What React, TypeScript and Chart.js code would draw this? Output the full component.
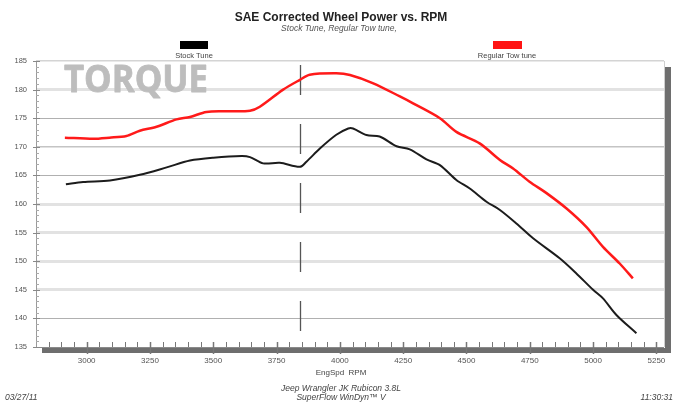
import React, { useEffect, useRef } from "react";
import { Chart, registerables } from "chart.js";

Chart.register(...registerables);

const stockRpm = [2918, 2986, 3092, 3210, 3316, 3408, 3500, 3612, 3645, 3697, 3763, 3842, 3868, 3921, 3986, 4033, 4052, 4105, 4157, 4224, 4276, 4342, 4395, 4460, 4513, 4579, 4632, 4697, 4763, 4868, 4933, 5000, 5039, 5092, 5171];
const stockTorque = [163.45, 163.85, 164.1, 165.1, 166.4, 167.6, 168.1, 168.4, 168.2, 167.1, 167.2, 166.5, 167.4, 169.7, 172.1, 173.2, 173.2, 172.05, 171.8, 170.1, 169.55, 167.8, 166.8, 164.2, 162.7, 160.4, 158.95, 156.6, 154.0, 150.5, 147.9, 145.0, 143.5, 140.6, 137.4];

const towRpm = [2914, 3026, 3090, 3157, 3210, 3276, 3355, 3408, 3473, 3560, 3645, 3684, 3776, 3842, 3881, 3986, 4040, 4132, 4237, 4289, 4395, 4460, 4552, 4632, 4684, 4749, 4816, 4894, 4973, 5039, 5105, 5157];
const towTorque = [171.6, 171.4, 171.6, 171.9, 172.8, 173.5, 174.8, 175.2, 176.1, 176.2, 176.3, 177.0, 180.0, 181.7, 182.6, 182.85, 182.55, 181.1, 178.8, 177.6, 175.0, 172.6, 170.6, 167.7, 166.2, 163.9, 161.9, 159.25, 156.0, 152.5, 149.6, 147.0];

const xTicks = [3000, 3250, 3500, 3750, 4000, 4250, 4500, 4750, 5000, 5250];
const yTicks = [135, 140, 145, 150, 155, 160, 165, 170, 175, 180, 185];
const markerRpm = 3842;

const FONT = "'Liberation Sans', Arial, sans-serif";

function gridStyle(v: number): [string, number] {
  if (v === 135) return ["rgba(0,0,0,0)", 0];
  if (v === 185) return ["#d4d4d4", 1.5];
  if (v === 175 || v === 165 || v === 140) return ["#b0b0b0", 1];
  if (v === 170) return ["#c4c4c4", 1.5];
  return ["#e2e2e2", 3];
}

const decorPlugin = {
  id: "decor",
  beforeDatasetsDraw(chart: any) {
    const ctx = chart.ctx as CanvasRenderingContext2D;
    const { left, right, top, bottom } = chart.chartArea;
    const xs = chart.scales.x;
    const ys = chart.scales.y;
    ctx.save();
    // TORQUE watermark
    ctx.font = `bold 38px 'Open Sans', 'Liberation Sans', sans-serif`;
    ctx.fillStyle = "#bdbdbd";
    ctx.strokeStyle = "#bdbdbd";
    ctx.lineWidth = 0.8;
    ctx.lineJoin = "round";
    ctx.textBaseline = "alphabetic";
    ctx.textAlign = "left";
    const w = ctx.measureText("TORQUE").width;
    ctx.translate(64, 92);
    ctx.scale(144 / w, 1);
    ctx.fillText("TORQUE", 0, 0);
    ctx.strokeText("TORQUE", 0, 0);
    ctx.restore();

    ctx.save();
    // right border
    ctx.strokeStyle = "#cfcfcf";
    ctx.lineWidth = 1;
    ctx.beginPath();
    ctx.moveTo(right + 0.5, top);
    ctx.lineTo(right + 0.5, bottom);
    ctx.stroke();
    // shadows
    ctx.fillStyle = "#6e6e6e";
    ctx.fillRect(left + 6, bottom + 1, right - left + 1, 5);
    ctx.fillRect(right + 1, top + 6, 6, bottom - top);
    // left axis
    ctx.strokeStyle = "#9a9a9a";
    ctx.beginPath();
    ctx.moveTo(left + 0.5, top);
    ctx.lineTo(left + 0.5, bottom + 1);
    ctx.stroke();
    // bottom axis
    ctx.strokeStyle = "#8a8a8a";
    ctx.beginPath();
    ctx.moveTo(left, bottom + 0.5);
    ctx.lineTo(right, bottom + 0.5);
    ctx.stroke();
    // x minor/major ticks
    ctx.strokeStyle = "#777";
    for (let r = 2850; r <= 5275; r += 50) {
      const px = Math.round(xs.getPixelForValue(r)) + 0.5;
      const major = r % 250 === 0;
      ctx.lineWidth = major ? 1.5 : 1;
      ctx.beginPath();
      ctx.moveTo(px, bottom - 5);
      ctx.lineTo(px, major ? bottom + 7 : bottom);
      ctx.stroke();
    }
    // y minor/major ticks
    for (let v = 135; v <= 185; v += 1) {
      const py = Math.round(ys.getPixelForValue(v)) + 0.5;
      const major = v % 5 === 0;
      ctx.lineWidth = 1;
      ctx.strokeStyle = major ? "#888" : "#aaa";
      ctx.beginPath();
      ctx.moveTo(major ? left - 3 : left, py);
      ctx.lineTo(left + (major ? 4 : 3), py);
      ctx.stroke();
    }
    // dashed marker
    const mx = Math.round(xs.getPixelForValue(markerRpm)) + 0.5;
    ctx.strokeStyle = "#555";
    ctx.lineWidth = 1.3;
    ctx.setLineDash([30, 29]);
    ctx.beginPath();
    ctx.moveTo(mx, top + 4);
    ctx.lineTo(mx, bottom - 14);
    ctx.stroke();
    ctx.restore();
  },
  afterDraw(chart: any) {
    const ctx = chart.ctx as CanvasRenderingContext2D;
    ctx.save();
    ctx.fillStyle = "#222";
    ctx.textAlign = "center";
    ctx.textBaseline = "alphabetic";
    ctx.font = `bold 12px ${FONT}`;
    ctx.fillText("SAE Corrected Wheel Power vs. RPM", 341, 21);
    ctx.fillStyle = "#555";
    ctx.font = `italic 8.5px ${FONT}`;
    ctx.fillText("Stock Tune, Regular Tow tune,", 339, 31);

    // legend
    ctx.fillStyle = "#000";
    ctx.fillRect(180, 41, 28, 8);
    ctx.fillStyle = "#ff1414";
    ctx.fillRect(493, 41, 29, 8);
    ctx.fillStyle = "#444";
    ctx.font = `7.5px ${FONT}`;
    ctx.fillText("Stock Tune", 194, 58);
    ctx.fillText("Regular Tow tune", 507, 58);

    // bottom texts
    ctx.fillStyle = "#444";
    ctx.font = `8px ${FONT}`;
    ctx.fillText("EngSpd  RPM", 341, 375);
    ctx.font = `italic 8.5px ${FONT}`;
    ctx.fillText("Jeep Wrangler JK Rubicon 3.8L", 341, 391);
    ctx.fillText("SuperFlow WinDyn\u2122 V", 341, 400);
    ctx.textAlign = "left";
    ctx.fillText("03/27/11", 5, 400);
    ctx.textAlign = "right";
    ctx.fillText("11:30:31", 673, 400);
    ctx.restore();
  },
};

export default function App() {
  const ref = useRef<HTMLCanvasElement | null>(null);
  useEffect(() => {
    document.body.style.margin = "0";
    const canvas = ref.current!;
    const chart = new Chart(canvas, {
      type: "line",
      data: {
        datasets: [
          {
            label: "Stock Tune",
            data: stockRpm.map((r, i) => ({ x: r, y: stockTorque[i] })),
            borderColor: "#1c1c1c",
            borderWidth: 2,
            pointRadius: 0,
            tension: 0.3,
            fill: false,
          },
          {
            label: "Regular Tow tune",
            data: towRpm.map((r, i) => ({ x: r, y: towTorque[i] })),
            borderColor: "#ff1a1a",
            borderWidth: 2.5,
            pointRadius: 0,
            tension: 0.3,
            fill: false,
          },
        ],
      },
      options: {
        responsive: false,
        animation: false,
        events: [],
        layout: { padding: { top: 61, right: 14, left: 0, bottom: 0 } },
        plugins: {
          legend: { display: false },
          title: { display: false },
          tooltip: { enabled: false },
        },
        scales: {
          x: {
            type: "linear",
            min: 2800,
            max: 5280,
            afterBuildTicks: (s: any) => {
              s.ticks = xTicks.map((v) => ({ value: v }));
            },
            afterFit: (s: any) => {
              s.height = 55;
            },
            grid: { display: false, drawTicks: false },
            border: { display: false },
            ticks: {
              autoSkip: false,
              maxRotation: 0,
              padding: 9,
              color: "#555",
              font: { family: FONT, size: 8 },
              callback: (v: any) => String(v),
            },
          },
          y: {
            type: "linear",
            min: 135,
            max: 185,
            afterBuildTicks: (s: any) => {
              s.ticks = yTicks.map((v) => ({ value: v }));
            },
            afterFit: (s: any) => {
              s.width = 36;
            },
            grid: {
              drawTicks: false,
              color: (c: any) => gridStyle(c.tick ? c.tick.value : 0)[0],
              lineWidth: (c: any) => gridStyle(c.tick ? c.tick.value : 0)[1],
            },
            border: { display: false },
            ticks: {
              padding: 9,
              color: "#555",
              font: { family: FONT, size: 7.5 },
              callback: (v: any) => String(v),
            },
          },
        },
      },
      plugins: [decorPlugin],
    });
    return () => chart.destroy();
  }, []);
  return (
    <div style={{ width: 678, height: 402, background: "#fff" }}>
      <canvas ref={ref} width={678} height={402} style={{ display: "block" }} />
    </div>
  );
}
